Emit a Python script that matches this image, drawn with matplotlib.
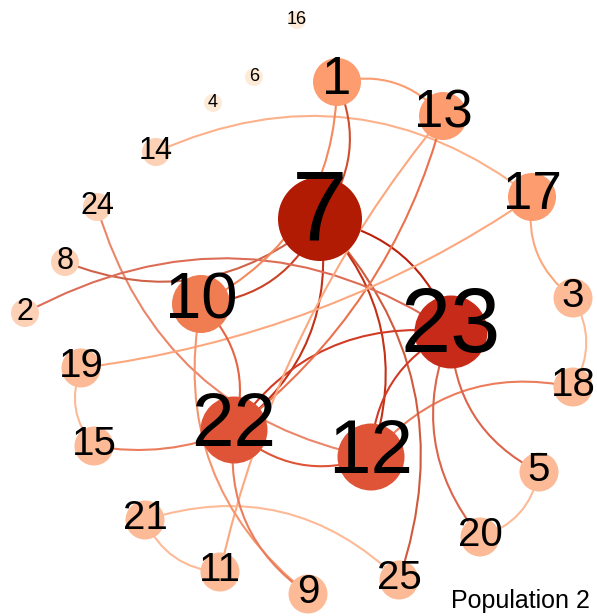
import numpy as np
import matplotlib
matplotlib.use("Agg")
import matplotlib.pyplot as plt
from matplotlib.patches import FancyArrowPatch
from matplotlib.colors import to_rgb

plt.rcParams['font.family'] = ['Liberation Sans', 'DejaVu Sans']

# ---------------- data ----------------
node_ids = [1, 2, 3, 4, 5, 6, 7, 8, 9, 10, 11, 12, 13,
            14, 15, 16, 17, 18, 19, 20, 21, 22, 23, 24, 25]
# layout coordinates (image-like units, y grows downward)
layout_x = [337, 25, 573, 213, 539, 254, 320, 65, 308, 201, 220, 371, 443,
            156, 94, 297, 532, 573, 81, 480, 145, 234, 451, 97, 399]
layout_y = [82, 313, 298, 103, 472, 77, 219, 262, 594, 304, 572, 457, 116,
            152, 446, 20, 197, 387, 368, 537, 520, 430, 332, 207, 580]
# centrality class of each node (drives size and colour)
node_level = [3, 1, 2, 0, 2, 0, 7, 1, 2, 4, 2, 5, 3,
              1, 2, 0, 3, 2, 2, 2, 2, 5, 6, 1, 2]

edge_src = [13, 17, 17, 18, 18, 23, 20, 23, 25, 23, 12, 22, 23, 22, 24, 23,
            10, 8, 23, 7, 10, 22, 13, 19, 19, 21, 25, 15, 22, 10, 22]
edge_dst = [1, 14, 3, 3, 12, 5, 5, 20, 7, 7, 7, 7, 22, 12, 12, 12,
            7, 7, 2, 1, 1, 13, 11, 17, 15, 11, 21, 22, 10, 9, 9]

title_text = "Population 2"

# ---------------- styles ----------------
level_radius = [9, 14, 19.5, 24, 29, 33.5, 36.5, 42]     # px
level_font = [13, 22, 29, 38, 47, 55, 65, 72]             # pt
level_color = ['#FDEBD8', '#FDD1B5', '#FCBA97', '#FC9C6F',
               '#F07C52', '#DF5436', '#C72A18', '#B11A03']
default_bend = 0.3
special_bend = {(22, 13): 0.17, (13, 11): 0.12, (19, 17): 0.12, (15, 22): 0.15}
dark_share = 0.6   # share of the darker endpoint in an edge's colour

W, H = 597, 616
fig = plt.figure(figsize=(W / 100, H / 100), dpi=100)
ax = fig.add_axes([0, 0, 1, 1])
ax.set_xlim(0, W)
ax.set_ylim(H, 0)
ax.axis('off')

pos = {n: (x, y) for n, x, y in zip(node_ids, layout_x, layout_y)}
lvl = {n: l for n, l in zip(node_ids, node_level)}

def ncol(n):
    return np.array(to_rgb(level_color[lvl[n]]))

for u, v in zip(edge_src, edge_dst):
    dark, light = (u, v) if lvl[u] >= lvl[v] else (v, u)
    c = dark_share * ncol(dark) + (1 - dark_share) * ncol(light)
    rad = special_bend.get((u, v), default_bend)
    p = FancyArrowPatch(pos[u], pos[v], connectionstyle=f"arc3,rad={rad}",
                        arrowstyle='-', shrinkA=0, shrinkB=0,
                        color=c, lw=1.5, zorder=1)
    ax.add_patch(p)

sizes = [(2 * level_radius[l] * 0.72) ** 2 for l in node_level]
colors = [level_color[l] for l in node_level]
ax.scatter(layout_x, layout_y, s=sizes, c=colors, linewidths=0, zorder=2)

for n, x, y, l in zip(node_ids, layout_x, layout_y, node_level):
    fs = level_font[l]
    ax.text(x, y - 0.06 * fs, str(n), fontsize=fs, ha='center', va='center',
            color='black', zorder=3)

ax.text(590, 608, title_text, fontsize=18, ha='right', va='baseline', zorder=3)

fig.savefig('out.png', dpi=100, facecolor='white')
